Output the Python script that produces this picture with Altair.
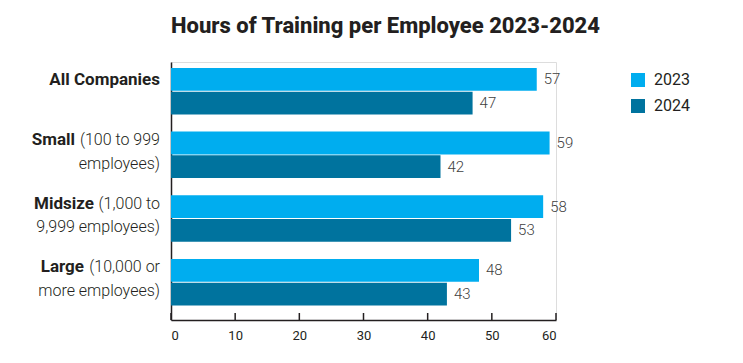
import altair as alt
import pandas as pd

categories = ["All Companies", "Small", "Midsize", "Large"]
years = ["2023", "2024"]
hours_2023 = [57, 59, 58, 48]
hours_2024 = [47, 42, 53, 43]
bold_names = ["All Companies", "Small", "Midsize", "Large"]
detail_line1 = ["", "(100 to 999", "(1,000 to", "(10,000 or"]
detail_line2 = ["", "employees)", "9,999 employees)", "more employees)"]
x_ticks = [0, 10, 20, 30, 40, 50, 60]
colors = ["#00ADEF", "#00739E"]
title_text = "Hours of Training per Employee 2023-2024"

# label layout (pixels left of the axis where each bold prefix ends)
prefix_end = {"Small": 85, "Midsize": 66, "Large": 76}

rows = []
for c, a, b in zip(categories, hours_2023, hours_2024):
    rows.append({"category": c, "year": "2023", "hours": a})
    rows.append({"category": c, "year": "2024", "hours": b})
bars_df = pd.DataFrame(rows)

detail_rows = []
for c, l1, l2 in zip(categories, detail_line1, detail_line2):
    if l1:
        detail_rows.append({"category": c, "year": "2023", "text": l1})
    if l2:
        detail_rows.append({"category": c, "year": "2024", "text": l2})
detail_df = pd.DataFrame(detail_rows)
name_df = pd.DataFrame({"category": categories, "year": ["2023"] * 4, "name": bold_names})
ticks_df = pd.DataFrame({"tick": x_ticks})

W, H = 385, 258
INK = "#231F20"
BOLD_FONT = "Roboto"

y_scale = alt.Scale(domain=categories, paddingInner=0.27, paddingOuter=0.16, align=0.29)
yoff_scale = alt.Scale(domain=years, paddingInner=0.04, paddingOuter=0)
x_scale = alt.Scale(domain=[0, 60], nice=False)

Y = alt.Y("category:N", scale=y_scale, sort=categories,
          axis=alt.Axis(labels=False, ticks=False, title=None, grid=False,
                        domainColor=INK, domainWidth=1.5))
YO = alt.YOffset("year:N", scale=yoff_scale, sort=years)

bars = alt.Chart(bars_df).mark_bar().encode(
    x=alt.X("hours:Q", scale=x_scale,
            axis=alt.Axis(values=x_ticks, ticks=False, grid=False, title=None,
                          labelFont="Roboto", labelFontSize=13, labelColor=INK,
                          labelPadding=9, domainColor=INK, domainWidth=1.5)),
    y=Y,
    yOffset=YO,
    color=alt.Color("year:N", scale=alt.Scale(domain=years, range=colors),
                    legend=alt.Legend(title=None, orient="none", legendX=459, legendY=10,
                                      symbolType="square", symbolSize=196,
                                      symbolStrokeWidth=0, labelFont="Roboto",
                                      labelFontSize=16, labelColor=INK,
                                      rowPadding=10, labelOffset=8, padding=0)),
)

values = alt.Chart(bars_df).mark_text(
    align="left", baseline="middle", dx=7, font="Roboto", fontWeight=300,
    fontSize=15, color="#404040"
).encode(x="hours:Q", y=Y, yOffset=YO, text="hours:Q")

tick_rules = alt.Chart(ticks_df).mark_rule(color=INK, strokeWidth=1.5).encode(
    x=alt.X("tick:Q", scale=x_scale), y=alt.value(H - 7), y2=alt.value(H)
)

all_label = alt.Chart(name_df).transform_filter(
    alt.datum.category == "All Companies"
).mark_text(align="right", baseline="alphabetic", dy=6, font=BOLD_FONT,
            fontWeight="bold", fontSize=17, color=INK).encode(
    x=alt.value(-11), y=Y, yOffset=YO, text="name:N")

details = alt.Chart(detail_df).mark_text(
    align="right", baseline="alphabetic", dy=2, font="Roboto", fontWeight=300,
    fontSize=16, color=INK
).encode(x=alt.value(-11), y=Y, yOffset=YO, text="text:N")

prefix_layers = []
for name, off in prefix_end.items():
    prefix_layers.append(
        alt.Chart(name_df).transform_filter(alt.datum.category == name).mark_text(
            align="right", baseline="alphabetic", dy=2, font=BOLD_FONT,
            fontWeight="bold", fontSize=17, color=INK
        ).encode(x=alt.value(-11 - off), y=Y, yOffset=YO, text="name:N")
    )

chart = alt.layer(bars, values, tick_rules, all_label, details, *prefix_layers).properties(
    width=W, height=H,
    title=alt.TitleParams(title_text, font="Roboto", fontSize=22, fontWeight=800,
                          color=INK, anchor="middle", dx=22, offset=24),
    autosize=alt.AutoSizeParams(type="none"),
    padding={"left": 163, "top": 54, "right": 170, "bottom": 30},
).configure_view(stroke=None).configure(background="white")

chart.save("out.html", embed_options={"renderer": "svg", "actions": False})
